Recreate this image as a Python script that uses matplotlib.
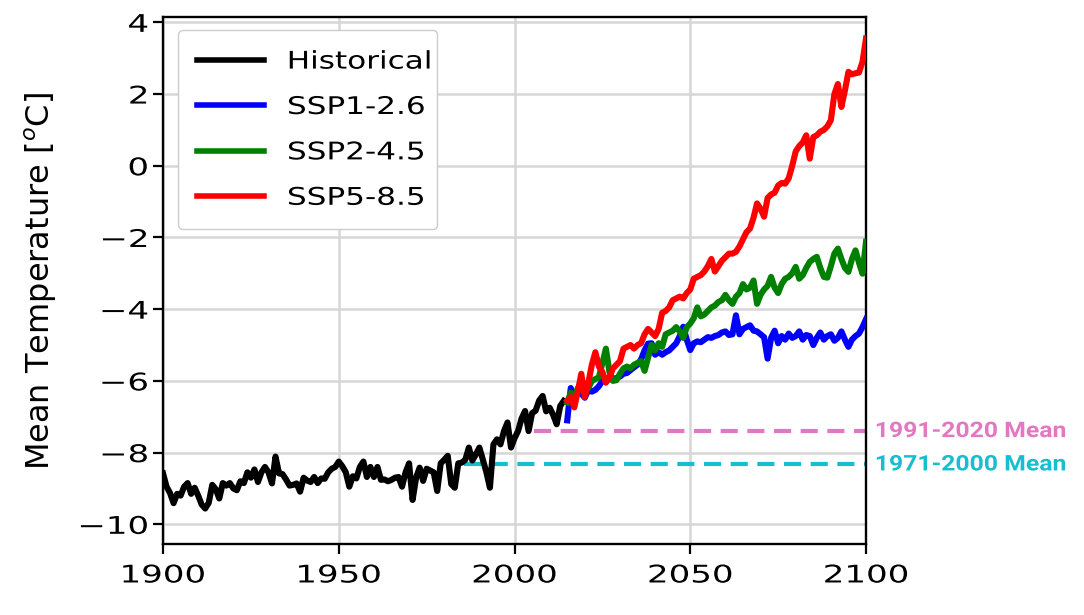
import numpy as np
import matplotlib
matplotlib.use("Agg")
import matplotlib.pyplot as plt
from matplotlib.patheffects import AbstractPathEffect
from matplotlib.transforms import Affine2D

# ---------------- data ----------------
hist_years = list(range(1900, 2015))
hist_temp = [
    -8.58, -8.95, -9.13, -9.41, -9.15, -9.20, -8.95, -8.85, -9.15, -8.98,
    -9.20, -9.45, -9.56, -9.40, -8.90, -9.02, -9.28, -8.85, -8.92, -8.85,
    -9.00, -9.05, -8.80, -8.85, -8.55, -8.70, -8.47, -8.82, -8.55, -8.40,
    -8.55, -8.86, -8.11, -8.58, -8.60, -8.75, -8.92, -8.90, -8.86, -9.09,
    -8.70, -8.78, -8.82, -8.68, -8.85, -8.72, -8.73, -8.55, -8.45, -8.40,
    -8.25, -8.38, -8.55, -8.95, -8.66, -8.72, -8.40, -8.25, -8.68, -8.40,
    -8.68, -8.40, -8.76, -8.75, -8.80, -8.76, -8.70, -8.68, -8.95, -8.55,
    -8.30, -9.32, -8.70, -8.42, -8.79, -8.45, -8.50, -8.55, -9.07, -8.30,
    -8.20, -8.09, -8.88, -8.98, -8.30, -8.28, -8.20, -7.86, -8.22, -8.05,
    -7.86, -8.20, -8.55, -8.98, -7.77, -7.63, -7.77, -7.40, -7.16, -7.86,
    -7.60, -7.40, -7.05, -6.84, -7.40, -6.90, -6.83, -6.55, -6.42, -6.85,
    -6.75, -6.95, -7.21, -6.70, -6.56,
]

ssp_years = list(range(2015, 2101))
ssp126 = [
    -7.10, -6.20, -6.47, -6.30, -6.35, -6.47, -6.25, -6.30, -6.25, -6.15,
    -6.00, -6.00, -5.95, -5.95, -5.92, -5.88, -5.80, -5.78, -5.70, -5.62,
    -5.55, -5.40, -5.15, -4.96, -4.95, -5.27, -5.20, -5.27, -5.20, -5.15,
    -5.05, -4.95, -4.75, -4.49, -4.85, -5.14, -4.95, -4.90, -4.92, -4.85,
    -4.78, -4.80, -4.75, -4.72, -4.65, -4.62, -4.72, -4.70, -4.17, -4.70,
    -4.55, -4.50, -4.45, -4.60, -4.62, -4.70, -4.78, -5.38, -4.80, -4.60,
    -4.95, -4.75, -4.85, -4.68, -4.80, -4.75, -4.62, -4.85, -4.72, -4.75,
    -5.00, -4.80, -4.65, -4.85, -4.75, -4.70, -4.88, -4.80, -4.62, -4.85,
    -5.05, -4.85, -4.75, -4.68, -4.50, -4.28,
]
ssp245 = [
    -6.60, -6.33, -6.55, -6.20, -6.25, -6.10, -6.20, -6.00, -5.95, -5.90,
    -5.50, -5.10, -5.75, -6.00, -5.98, -5.80, -5.65, -5.60, -5.65, -5.55,
    -5.50, -5.45, -5.72, -5.35, -5.00, -5.15, -4.95, -5.05, -4.70, -4.65,
    -4.60, -4.50, -4.62, -4.80, -4.50, -4.40, -4.25, -3.95, -4.20, -4.15,
    -4.05, -3.95, -3.90, -3.80, -3.75, -3.60, -3.75, -3.85, -3.65, -3.55,
    -3.30, -3.45, -3.40, -3.20, -3.85, -3.60, -3.45, -3.35, -3.10, -3.40,
    -3.55, -3.30, -3.15, -3.10, -3.00, -2.82, -3.15, -3.05, -2.85, -2.68,
    -2.60, -2.54, -2.85, -3.10, -3.12, -2.80, -2.45, -2.31, -2.60, -2.85,
    -2.96, -2.60, -2.36, -2.70, -3.01, -2.12,
]
ssp585 = [
    -6.55, -6.45, -6.74, -6.30, -5.80, -6.45, -6.05, -5.55, -5.20, -5.60,
    -5.75, -6.05, -5.90, -5.65, -5.55, -5.45, -5.10, -5.05, -5.00, -5.10,
    -5.00, -4.95, -4.70, -4.55, -4.65, -4.75, -4.55, -4.10, -4.05, -3.95,
    -3.75, -3.70, -3.65, -3.70, -3.55, -3.45, -3.15, -3.10, -3.05, -2.95,
    -2.80, -2.60, -2.95, -2.80, -2.65, -2.55, -2.45, -2.45, -2.40, -2.25,
    -2.05, -1.85, -1.75, -1.45, -1.05, -1.20, -1.42, -0.90, -0.80, -0.75,
    -0.55, -0.48, -0.50, -0.35, 0.00, 0.40, 0.55, 0.65, 0.85, 0.20,
    0.80, 0.85, 0.95, 1.00, 1.10, 1.27, 2.00, 2.28, 1.64, 2.10,
    2.62, 2.55, 2.58, 2.60, 2.90, 3.55,
]

mean_1991_2020 = -7.40
mean_1971_2000 = -8.33
mean_start_1991_2020 = 2005.5
mean_start_1971_2000 = 1985.5

series_labels = ["Historical", "SSP1-2.6", "SSP2-4.5", "SSP5-8.5"]
series_colors = ["black", "blue", "green", "red"]
mean_labels = ["1991-2020 Mean", "1971-2000 Mean"]
mean_colors = ["#e377c2", "#17becf"]

x_ticks = [1900, 1950, 2000, 2050, 2100]
y_ticks = [-10, -8, -6, -4, -2, 0, 2, 4]


# horizontal stretch of text glyphs (the reference is stretched sideways)
class StretchX(AbstractPathEffect):
    def __init__(self, sx, anchor="center"):
        super().__init__()
        self.sx = sx
        self.anchor = anchor

    def draw_path(self, renderer, gc, tpath, affine, rgbFace=None):
        ext = affine.transform_path(tpath).get_extents()
        if self.anchor == "left":
            cx = ext.x0
        elif self.anchor == "right":
            cx = ext.x1
        else:
            cx = 0.5 * (ext.x0 + ext.x1)
        new_affine = affine + Affine2D().translate(-cx, 0).scale(self.sx, 1.0).translate(cx, 0)
        renderer.draw_path(gc, tpath, new_affine, rgbFace)


# ---------------- figure ----------------
fig = plt.figure(figsize=(10.84, 6.15), dpi=100)
ax = fig.add_axes([0.1504, 0.1154, 0.6485, 0.857])

lw = 4.4
ax.plot(hist_years, hist_temp, color=series_colors[0], lw=lw, label=series_labels[0], zorder=3)
ax.plot(ssp_years, ssp126, color=series_colors[1], lw=lw, label=series_labels[1], zorder=3)
ax.plot(ssp_years, ssp245, color=series_colors[2], lw=lw, label=series_labels[2], zorder=3)
ax.plot(ssp_years, ssp585, color=series_colors[3], lw=lw, label=series_labels[3], zorder=3)

dash = (0, (4.1, 2.3))
ax.plot([mean_start_1991_2020, 2100], [mean_1991_2020] * 2, color=mean_colors[0],
        lw=3, ls=dash, zorder=2)
ax.plot([mean_start_1971_2000, 2100], [mean_1971_2000] * 2, color=mean_colors[1],
        lw=3, ls=dash, zorder=2)

ax.set_xlim(1900, 2100)
ax.set_ylim(-10.55, 4.15)
ax.set_xticks(x_ticks)
ax.set_yticks(y_ticks)
ax.grid(True, color="#d6d6d6", lw=1.8, zorder=0)
ax.set_axisbelow(True)
ax.tick_params(axis="both", labelsize=17.5, length=7, width=1.6, direction="out")
ax.tick_params(axis="x", pad=7)
ax.tick_params(axis="y", pad=3.5)
for sp in ax.spines.values():
    sp.set_linewidth(1.7)

for lab in ax.get_xticklabels():
    lab.set_path_effects([StretchX(1.4, "center")])
for lab in ax.get_yticklabels():
    lab.set_path_effects([StretchX(1.4, "right")])

ax.set_ylabel("Mean Temperature [$^o$C]", fontsize=23)
ax.yaxis.set_label_coords(-0.148, 0.499)

leg = ax.legend(loc="upper left", bbox_to_anchor=(0.0213, 0.603, 0.369, 0.372),
                mode="expand", borderaxespad=0.0, fontsize=17.5, frameon=True,
                fancybox=True, edgecolor="#cccccc", framealpha=1.0,
                handlelength=2.75, handletextpad=0.95, borderpad=0.8,
                labelspacing=0.88)
for h in leg.get_lines():
    h.set_linewidth(4.0)
for t in leg.get_texts():
    t.set_path_effects([StretchX(1.28, "left")])

# right-hand annotations
for lab, val, col in zip(mean_labels, [mean_1991_2020, mean_1971_2000], mean_colors):
    t = ax.annotate(lab, xy=(1.0, val), xycoords=("axes fraction", "data"),
                    xytext=(6.5, 0), textcoords="offset points", ha="left", va="center",
                    fontsize=15.5, fontweight="bold", family="Roboto", color=col,
                    annotation_clip=False)
    t.set_path_effects([StretchX(1.15, "left")])

fig.savefig("out.png", dpi=100)
